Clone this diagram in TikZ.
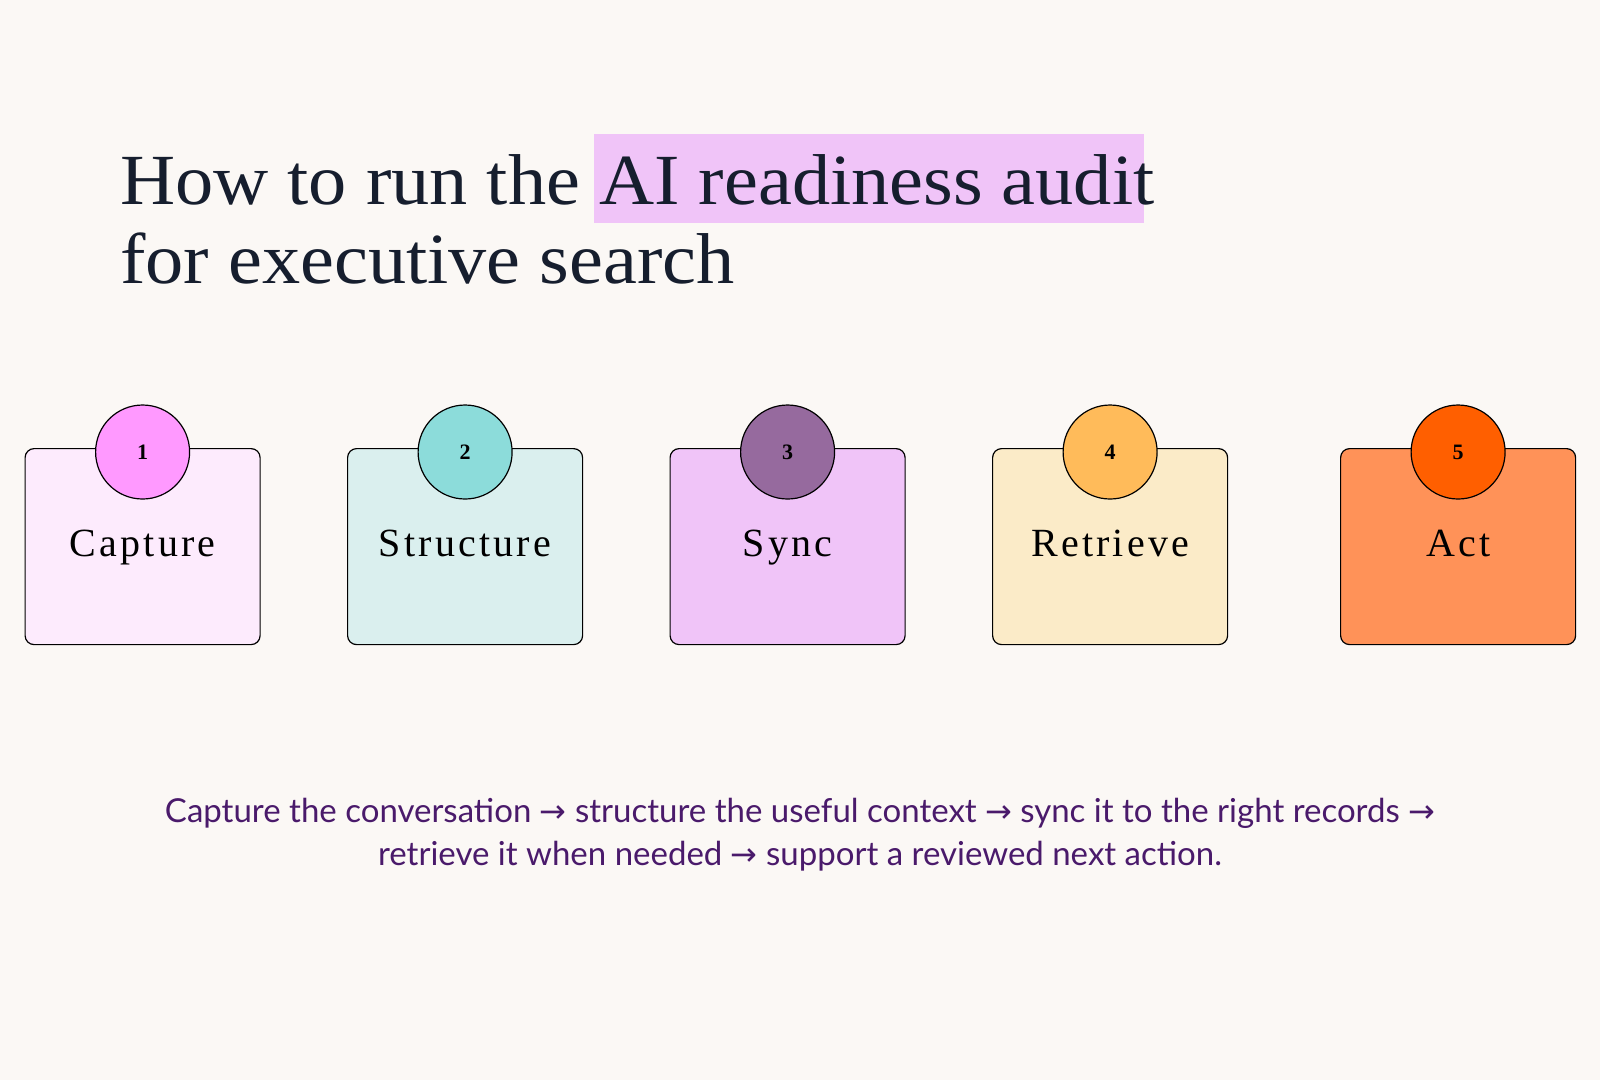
\documentclass[tikz,border=0pt]{standalone}
\usepackage{fontspec}
\setmainfont{Liberation Serif}
\newfontfamily\bodyf{Lato}
\newfontfamily\arrf{DejaVu Sans}
\begin{document}
\definecolor{bg}{HTML}{FBF8F5}
\definecolor{ink}{HTML}{161E2E}
\definecolor{hl}{HTML}{F0C4F8}
\definecolor{sub}{HTML}{4A1A6B}
\newcommand{\ar}{{\arrf\fontsize{32}{34}\selectfont →}}
\begin{tikzpicture}[x=1pt,y=-1pt,
  box/.style={draw=black,line width=1.2pt,rounded corners=9pt,minimum width=235pt,minimum height=196pt,anchor=north west},
  num/.style={circle,draw=black,line width=1.2pt,minimum size=94pt,inner sep=0pt,font=\fontsize{22}{24}\selectfont\bfseries},
  lab/.style={font=\fontsize{40}{44}\selectfont\addfontfeature{LetterSpace=8}},
  ttl/.style={anchor=base west,inner sep=0,text=ink,font=\fontsize{72}{80}\selectfont\addfontfeature{FakeStretch=1.06}}]
\fill[bg] (0,0) rectangle (1600,1080);
\useasboundingbox (0,0) rectangle (1600,1080);
\fill[hl] (594,134) rectangle (1144,223);
\node[ttl] (t1) at (120,204) {How to run the AI readiness audit};
\node[ttl] (t2) at (120,283) {for executive search};
\foreach \i/\x/\bf/\cf/\t in {1/24.5/FDEBFD/FF99FF/Capture,2/347/DAEFEE/8CDCDA/Structure,3/669.5/F0C4F8/966A9E/Sync,4/992/FBEBC8/FFBB5A/Retrieve,5/1340/FF9258/FF5F00/Act}{
  \definecolor{bf}{HTML}{\bf}\definecolor{cf}{HTML}{\cf}
  \node[box,fill=bf] (b\i) at (\x,448) {};
  \node[num,fill=cf] (c\i) at ([yshift=-4pt]b\i.north) {\i};
  \node[lab,anchor=base] (l\i) at ([yshift=89pt]b\i.south) {\t};
}
\node[anchor=base,inner sep=0,text=sub,font=\bodyf\fontsize{33}{36}\selectfont] (s1) at (800,822) {Capture the conversation \ar{} structure the useful context \ar{} sync it to the right records \ar};
\node[anchor=base,inner sep=0,text=sub,font=\bodyf\fontsize{33}{36}\selectfont] (s2) at (800,865) {retrieve it when needed \ar{} support a reviewed next action.};
\end{tikzpicture}
\end{document}
